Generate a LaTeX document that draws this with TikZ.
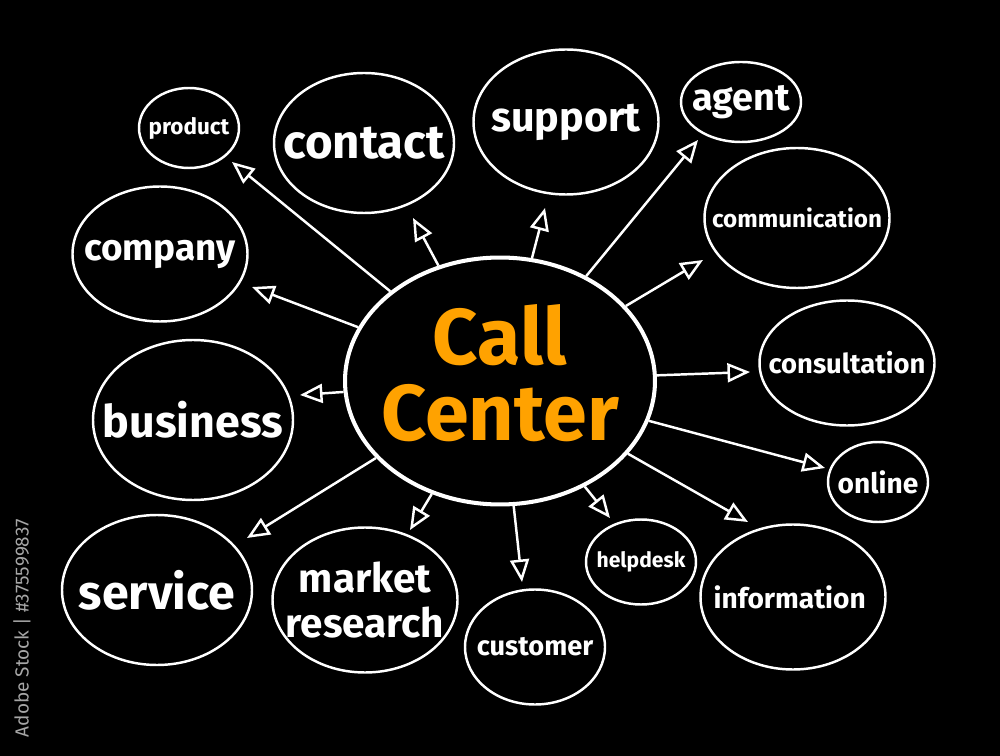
\documentclass[tikz,border=0pt]{standalone}
\usepackage{fontspec}
\setmainfont{Fira Sans}
\usetikzlibrary{arrows.meta,shapes.geometric}
\definecolor{Chalk}{HTML}{FFFFFF}
\definecolor{Board}{HTML}{000000}
\definecolor{Amber}{HTML}{FFA200}
\definecolor{Stamp}{HTML}{A6A6A6}

\begin{document}
\begin{tikzpicture}[x=0.02cm,y=-0.02cm,
  bubble/.style={ellipse,draw=Chalk,line width=1.4pt,inner sep=0pt},
  word/.style={text=Chalk,align=center,inner sep=0pt},
  hub/.style={ellipse,draw=Chalk,line width=2.3pt,inner sep=0pt},
  title/.style={text=Amber,align=center,inner sep=0pt,font=\bfseries\fontsize{45}{43}\selectfont},
  link/.style={draw=Chalk,line width=1.4pt,-{Triangle[open,length=0.45cm,width=0.38cm]}},
  stamp/.style={rotate=90,text=Stamp,font=\fontsize{10.8}{12}\selectfont}
]
\useasboundingbox (0,0) rectangle (1000,756);
\fill[Board] (0,0) rectangle (1000,756);

% centre of the map
\node[hub,minimum width=6.2cm,minimum height=4.94cm] (cc) at (500,381) {};
\node[title] (cc-text) at (500,373) {Call\\Center};

% outer bubbles: name/x/y/width/height/font size/text
\foreach \n/\x/\y/\w/\h/\fs/\txt in {
  product/189/128/100/80/12.8/product,
  contact/364/143/180/140/27/contact,
  support/566/122/185/145/23.5/support,
  agent/741/102/120/80/21.5/agent,
  comm/797/218/185/140/13.8/communication,
  company/160/254/175/135/21/company,
  consult/847/363/175/125/15.6/consultation,
  business/193/420/200/160/25.5/business,
  online/878/482/100/80/16/online,
  service/157/590/190/150/27.5/service,
  market/365/600/185/145/23/{market\\research},
  customer/535/647/140/115/15.5/customer,
  helpdesk/641/562/110/85/12/helpdesk,
  info/793/597/185/145/16/information
} {
  \pgfmathsetmacro{\ls}{\fs*1.1}
  \node[bubble,minimum width=\w*0.02cm,minimum height=\h*0.02cm] (\n) at (\x,\y) {};
  \node[word,font=\bfseries\fontsize{\fs}{\ls}\selectfont] (\n-text) at (\n.center) {\txt};
}

% loose arrow ends
\coordinate (product-tip) at (232,162);
\coordinate (contact-tip) at (413,218);
\coordinate (support-tip) at (545,208);
\coordinate (agent-tip) at (698,140);
\coordinate (comm-tip) at (703,260);
\coordinate (company-tip) at (252,287);
\coordinate (business-tip) at (300,395);
\coordinate (consult-tip) at (750,372);
\coordinate (online-tip) at (825,468);
\coordinate (service-tip) at (247,538);
\coordinate (market-tip) at (410,530);
\coordinate (customer-tip) at (522,582);
\coordinate (helpdesk-tip) at (610,518);
\coordinate (info-tip) at (748,522);

\foreach \n in {product,contact,support,agent,comm,company,business,
  consult,online,service,market,customer,helpdesk,info}
  \draw[link] (cc) -- (\n-tip);

\node[stamp] (credit) at (22,628) {Adobe Stock | \#375599837};
\end{tikzpicture}
\end{document}
